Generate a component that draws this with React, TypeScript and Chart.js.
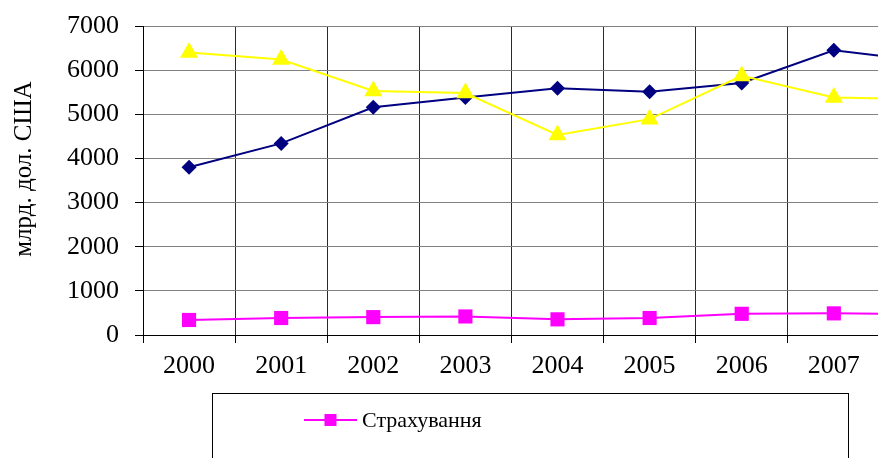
import React, { useEffect, useRef } from 'react';
import { Chart, registerables } from 'chart.js';

Chart.register(...registerables);

// ---- data ----
const years = ['2000', '2001', '2002', '2003', '2004', '2005', '2006', '2007', '2008'];
const insuranceValues = [340, 385, 405, 420, 355, 385, 480, 490, 470];
const yellowValues = [6400, 6240, 5530, 5480, 4530, 4890, 5870, 5380, 5340];
const navyValues = [3800, 4340, 5160, 5380, 5590, 5510, 5710, 6450, 6200];
const insuranceLabel = 'Страхування';
const axisTitle = 'млрд. дол. США';
const yMin = 0;
const yMax = 7000;
const yStep = 1000;

const FONT = "'Liberation Serif', 'Times New Roman', serif";

const decorPlugin = {
  id: 'decor',
  afterDraw(chart: any) {
    const ctx = chart.ctx as CanvasRenderingContext2D;
    // rotated y-axis title
    ctx.save();
    ctx.translate(16, 161);
    ctx.rotate(-Math.PI / 2);
    ctx.font = `25px ${FONT}`;
    ctx.fillStyle = '#000';
    ctx.textAlign = 'center';
    ctx.textBaseline = 'middle';
    ctx.fillText(axisTitle, 0, 0);
    ctx.restore();

    // legend box
    ctx.save();
    ctx.strokeStyle = '#000';
    ctx.lineWidth = 1;
    ctx.strokeRect(204.5, 385.5, 636, 200);
    const ds = chart.data.datasets[0];
    const ly = 412;
    ctx.strokeStyle = ds.borderColor;
    ctx.lineWidth = 2;
    ctx.beginPath();
    ctx.moveTo(296, ly);
    ctx.lineTo(349, ly);
    ctx.stroke();
    ctx.fillStyle = ds.pointBackgroundColor;
    ctx.fillRect(316.5, ly - 6, 12, 12);
    ctx.font = `22px ${FONT}`;
    ctx.fillStyle = '#000';
    ctx.textAlign = 'left';
    ctx.textBaseline = 'middle';
    ctx.fillText(ds.label, 354, ly + 1);
    ctx.restore();
  },
};

export default function App() {
  const canvasRef = useRef<HTMLCanvasElement | null>(null);

  useEffect(() => {
    document.body.style.overflow = 'hidden';
    const canvas = canvasRef.current;
    if (!canvas) return;
    const chart = new Chart(canvas, {
      type: 'line',
      data: {
        labels: years,
        datasets: [
          {
            label: insuranceLabel,
            data: insuranceValues,
            borderColor: '#FF00FF',
            backgroundColor: '#FF00FF',
            pointBackgroundColor: '#FF00FF',
            pointBorderColor: '#FF00FF',
            pointStyle: 'rect',
            pointRadius: 10,
            pointBorderWidth: 0,
            borderWidth: 2,
            tension: 0,
          },
          {
            label: '',
            data: yellowValues,
            borderColor: '#FFFF00',
            backgroundColor: '#FFFF00',
            pointBackgroundColor: '#FFFF00',
            pointBorderColor: '#FFFF00',
            pointStyle: 'triangle',
            pointRadius: 10.5,
            pointBorderWidth: 0,
            borderWidth: 2,
            tension: 0,
          },
          {
            label: '',
            data: navyValues,
            borderColor: '#000080',
            backgroundColor: '#000080',
            pointBackgroundColor: '#000080',
            pointBorderColor: '#000080',
            pointStyle: 'rectRot',
            pointRadius: 7.5,
            pointBorderWidth: 0,
            borderWidth: 2,
            tension: 0,
          },
        ],
      },
      options: {
        responsive: false,
        animation: false,
        events: [],
        layout: { padding: { left: 0, top: 18, right: 36, bottom: 133 } },
        plugins: {
          legend: { display: false },
          tooltip: { enabled: false },
          title: { display: false },
        },
        scales: {
          x: {
            type: 'category',
            offset: true,
            grid: {
              offset: true,
              color: '#2a2a2a',
              tickColor: '#000',
              tickLength: 8,
              drawTicks: true,
            },
            border: { color: '#000', width: 1 },
            ticks: {
              font: { family: FONT, size: 26 },
              color: '#000',
              padding: 8,
              maxRotation: 0,
              autoSkip: false,
            },
            afterFit: (s: any) => {
              s.height = 60;
              s.paddingLeft = 0;
              s.paddingRight = 0;
            },
          },
          y: {
            min: yMin,
            max: yMax,
            ticks: {
              stepSize: yStep,
              font: { family: FONT, size: 26 },
              color: '#000',
              padding: 16,
              callback: (v: any) => String(v),
            },
            grid: {
              color: (c: any) => (c.tick && c.tick.value === 0 ? '#000' : '#808080'),
              tickColor: '#000',
              tickLength: 8,
            },
            border: { color: '#000', width: 1 },
            afterFit: (s: any) => {
              s.width = 135;
              s.paddingTop = 0;
              s.paddingBottom = 0;
            },
          },
        },
      },
      plugins: [decorPlugin],
    });
    return () => chart.destroy();
  }, []);

  return (
    <div
      style={{
        position: 'absolute',
        left: 8,
        top: 8,
        width: 870,
        height: 450,
        overflow: 'hidden',
        background: '#fff',
      }}
    >
      <canvas ref={canvasRef} width={1000} height={520} style={{ display: 'block' }} />
    </div>
  );
}
